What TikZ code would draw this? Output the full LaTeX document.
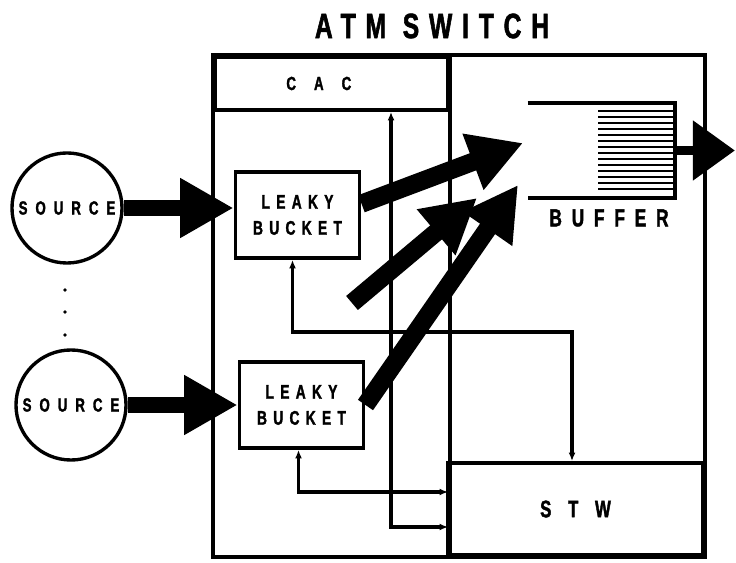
\documentclass[tikz,border=0pt]{standalone}
\usepackage{fontspec}
\usepackage{tikz}
\usetikzlibrary{arrows.meta, positioning, calc}
\newfontfamily\atmfont[FakeStretch=0.7, FakeBold=1.6]{Liberation Sans}

\begin{document}
\begin{tikzpicture}[x=0.025cm, y=-0.025cm,
          frame/.style={line width=2.8pt},
          lbl/.style={font=\atmfont\bfseries\fontsize{#1}{30}\selectfont},
          hdr/.style={draw, line width=2.8pt, inner sep=0pt},
          bucket/.style={draw, line width=2.8pt, minimum width=3.1cm, minimum height=2.15cm, align=center,
                         font=\atmfont\bfseries\fontsize{14}{18.5}\selectfont\addfontfeature{LetterSpace=32}},
          src/.style={draw, circle, line width=2.4pt, minimum size=2.75cm, inner sep=0pt,
                      font=\atmfont\bfseries\fontsize{13.5}{16}\selectfont\addfontfeature{LetterSpace=42}},
          conn/.style={line width=2.5pt, <->, >={Latex[length=6pt,width=5pt]}},
          fat/.style={line width=13pt, -{Triangle[length=38pt,width=40pt]}}]
  \useasboundingbox (0,0) rectangle (736,563);
  \node[lbl=25] (title) at (432,26) {\addfontfeature{LetterSpace=28}ATM SWITCH};
  % switch frame
  \node[hdr, minimum width=5.825cm, minimum height=1.325cm, lbl=13.5] (cac) at (331.5,83.5) {\addfontfeature{LetterSpace=95}CAC\hspace*{18pt}};
  \node[hdr, minimum width=6.375cm, minimum height=2.3cm, lbl=17] (stw) at (575.5,509) {\addfontfeature{LetterSpace=70}STW};
  \draw[frame] (cac.north west) rectangle (stw.south east);
  \draw[frame] (cac.north east) -- (cac.north east |- stw.south);
  % sources and policers
  \node[src] (s1) at (67,208) {SOURCE};
  \node[src] (s2) at (71,405) {SOURCE};
  \foreach \y in {290,312,335} \fill (65,\y) circle (1.8);
  \node[bucket] (lb1) at (297.5,215) {LEAKY\\BUCKET};
  \node[bucket] (lb2) at (301.5,405) {LEAKY\\BUCKET};
  \draw[fat, line width=11pt] (s1.east) -- (s1.east -| lb1.west);
  \draw[fat, line width=11pt] (s2.east) -- (s2.east -| lb2.west);
  % buffer
  \node[minimum width=3.675cm, minimum height=2.375cm] (buf) at (601.5,150.5) {};
  \draw[frame] (buf.north west) -- (buf.north east) -- (buf.south east) -- (buf.south west);
  \foreach \k in {0,...,13} \draw[line width=1.3pt] (598,111+6*\k) -- (675,111+6*\k);
  \node[lbl=17.5] (buflbl) at (609,218) {\addfontfeature{LetterSpace=40}BUFFER};
  \coordinate (out) at (735,150.5);
  \draw[line width=7pt, -{Triangle[length=30pt,width=41pt]}] (buf.east) -- (out);
  % cells into the buffer
  \coordinate (mouth) at (523,143);
  \coordinate (a2s) at (352,303);
  \coordinate (a2e) at (477,198);
  \coordinate (mouth3) at (518,185);
  \draw[fat] (lb1.10) -- (mouth);
  \draw[fat] (a2s) -- (a2e);
  \draw[fat] (lb2.east) -- (mouth3);
  % control lines
  \coordinate (fb1) at (572,332);
  \coordinate (fb2) at (448,492);
  \coordinate (fb3) at (448,527);
  \draw[conn] ($(lb1.south)+(-5,0)$) |- (fb1) -- (fb1 |- stw.north);
  \draw[conn] ($(lb2.south)+(-3,0)$) |- (fb2);
  \draw[conn] ($(cac.south east)+(-59,0)$) |- (fb3);
\end{tikzpicture}
\end{document}
